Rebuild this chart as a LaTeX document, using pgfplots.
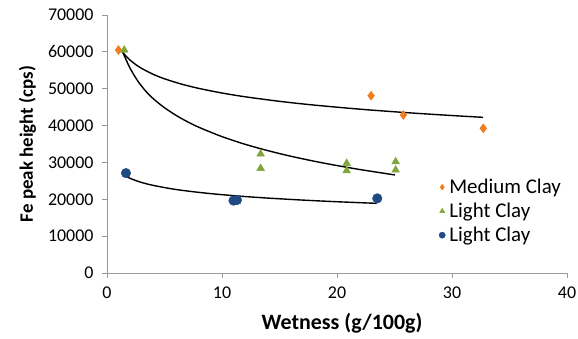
\documentclass[border=0pt]{standalone}
\usepackage{fontspec}
\setmainfont{Carlito}
\usepackage{pgfplots}
\pgfplotsset{compat=1.18}
\definecolor{cOrange}{HTML}{F07D1E}
\definecolor{cGreen}{HTML}{7FA63A}
\definecolor{cBlue}{HTML}{1F4A82}
\begin{document}
\begin{tikzpicture}
\begin{axis}[
  scale only axis, width=460bp, height=258bp,
  xmin=0, xmax=40, ymin=0, ymax=70000,
  xtick={0,10,20,30,40}, ytick={0,10000,...,70000},
  axis x line*=bottom, axis y line*=left,
  axis line style={draw=gray!80, line width=0.8bp},
  tick style={draw=gray!80, line width=0.8bp},
  tick align=outside, major tick length=5bp,
  scaled y ticks=false,
  /pgf/number format/.cd, fixed, 1000 sep={}, assume math mode=true,
  /pgfplots/.cd,
  ticklabel style={font=\fontsize{18}{21}\selectfont},
  yticklabel style={xshift=-5bp},
  xticklabel style={yshift=-5bp},
  xlabel={Wetness (g/100g)}, ylabel={Fe peak height (cps)},
  ylabel style={font=\bfseries\fontsize{19}{22}\selectfont, yshift=5bp},
  xlabel style={font=\bfseries\fontsize{22}{25}\selectfont, yshift=-8bp, xshift=5bp},
  legend style={draw=none, fill=none, at={(0.715,0.38)}, anchor=north west,
    font=\fontsize{21}{24}\selectfont, row sep=4bp,
    nodes={inner xsep=4bp}},
  legend image post style={scale=0.65},
  legend cell align=left,
]
\coordinate (O) at (rel axis cs:0,0);
\addplot[only marks, mark=diamond*, mark size=4.5bp, draw=cOrange, fill=cOrange]
  coordinates {(1.0,60500) (22.96,48100) (25.77,42860) (32.72,39250)};
\addlegendentry{Medium Clay}
\addplot[only marks, mark=triangle*, mark size=4.5bp, draw=cGreen, fill=cGreen]
  coordinates {(1.5,60500) (13.36,32300) (13.36,28400) (20.84,29760) (20.84,27750) (25.1,30200) (25.1,27950)};
\addlegendentry{Light Clay}
\addplot[only marks, mark=*, mark size=4.8bp, draw=cBlue, fill=cBlue]
  coordinates {(1.65,27100) (11.0,19650) (11.3,19800) (23.5,20250)};
\addlegendentry{Light Clay}
\addplot[forget plot, black, line width=1.4bp, smooth]
  coordinates {(1.3,60185) (1.6,59030) (2,57788) (2.5,56546) (3,55532) (4,53932) (5,52690) (6.5,51230) (8,50075) (10,48834) (12,47819) (15,46578) (18,45563) (22,44447) (26,43518) (30,42722) (32.7,42240)};
\addplot[forget plot, black, line width=1.4bp, smooth]
  coordinates {(1.4,59700) (2,55600) (2.72,51900) (3.5,48880) (4.17,46900) (5,44840) (6,42780) (7,41030) (8,39520) (10,37000) (12,34930) (14,33190) (16,31670) (18,30340) (20,29150) (22,28070) (25.04,26600)};
\addplot[forget plot, black, line width=1.4bp, smooth]
  coordinates {(1.71,26130) (2.2,25433) (3,24577) (4,23782) (5.62,22839) (7,22237) (9,21543) (11.4,20888) (14,20322) (17.2,19753) (20,19337) (23.45,18897)};
\end{axis}
\pgfresetboundingbox
\path (O) ++(-107bp,-66bp) rectangle ++(578bp,339bp);
\end{tikzpicture}
\end{document}
